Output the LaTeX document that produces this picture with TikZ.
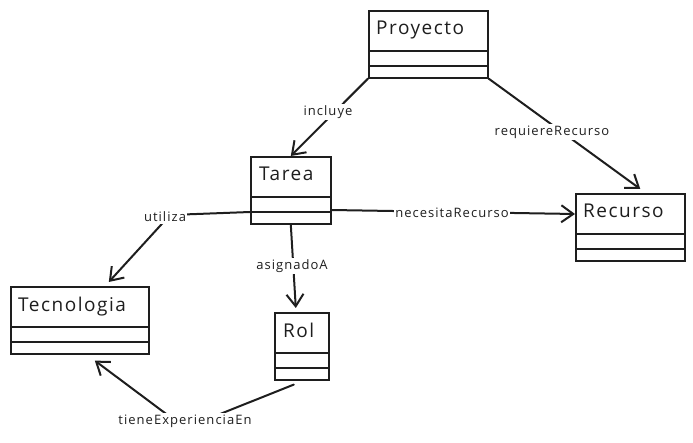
\documentclass[tikz,border=0pt]{standalone}
\usepackage{fontspec}
\setmainfont{Open Sans}[LetterSpace=8]
\usetikzlibrary{arrows.meta, positioning}

\definecolor{ink}{HTML}{1E1E1E}

\tikzset{
  classbox/.style={draw=ink, line width=1.6pt, fill=white, anchor=north west, minimum height=67pt, inner sep=0pt},
  classname/.style={anchor=north west, font=\fontsize{19}{21}\selectfont, text=ink, inner sep=0pt},
  assoc/.style={draw=ink, line width=2pt, line cap=round, -{Straight Barb[length=12pt, width=17pt, line width=2pt]}},
  lbl/.style={fill=white, text=ink, font=\fontsize{13}{15}\selectfont, inner sep=1.5pt}
}

\begin{document}
\begin{tikzpicture}[x=1pt, y=-1pt]
    \useasboundingbox (0,0) rectangle (693,443);

    % classes
    \node[classbox, minimum width=119pt] (proyecto) at (368,10) {};
    \node[classbox, minimum width=80pt] (tarea) at (250,156) {};
    \node[classbox, minimum width=109pt] (recurso) at (575,193) {};
    \node[classbox, minimum width=138pt] (tecnologia) at (10,286) {};
    \node[classbox, minimum width=54pt] (rol) at (274,312) {};

    % class names
    \node[classname] (proyectoName) at ([xshift=8pt, yshift=-11pt]proyecto.north west) {Proyecto};
    \node[classname] (tareaName) at ([xshift=9pt, yshift=-11pt]tarea.north west) {Tarea};
    \node[classname] (recursoName) at ([xshift=8pt, yshift=-11pt]recurso.north west) {Recurso};
    \node[classname] (tecnologiaName) at ([xshift=8pt, yshift=-11pt]tecnologia.north west) {Tecnologia};
    \node[classname] (rolName) at ([xshift=9pt, yshift=-11pt]rol.north west) {Rol};

    % attribute and operation compartments
    \foreach \c in {proyecto, tarea, recurso, tecnologia, rol} {
        \draw[ink, line width=1.6pt] ([yshift=-41pt]\c.north west) -- ([yshift=-41pt]\c.north east);
        \draw[ink, line width=1.6pt] ([yshift=-56pt]\c.north west) -- ([yshift=-56pt]\c.north east);
    }

    % bends
    \coordinate (utilizaBend) at (170,215);
    \coordinate (expBend) at (185,428);

    % associations
    \draw[assoc] (proyecto.south west) -- (tarea.north);
    \draw[assoc] (proyecto.south east) -- ([xshift=10pt, yshift=4pt]recurso.north);
    \draw[assoc] ([yshift=-54pt]tarea.north east) -- ([yshift=-21pt]recurso.north west);
    \draw[assoc] (tarea.south) -- ([xshift=-6pt, yshift=4pt]rol.north);
    \draw[assoc] ([yshift=-56pt]tarea.north west) -- (utilizaBend) -- ([xshift=29pt, yshift=4pt]tecnologia.north);
    \draw[assoc] ([xshift=-8pt, yshift=-4pt]rol.south) -- (expBend) -- ([xshift=15pt, yshift=-6pt]tecnologia.south);

    % labels
    \node[lbl] (incluyeLbl) at (328,112) {incluye};
    \node[lbl] (requiereLbl) at (552,132) {requiereRecurso};
    \node[lbl] (necesitaLbl) at (452,213) {necesitaRecurso};
    \node[lbl] (asignadoLbl) at (292,266) {asignadoA};
    \node[lbl] (utilizaLbl) at (165,217) {utiliza};
    \node[lbl] (expLbl) at (185,421) {tieneExperienciaEn};
\end{tikzpicture}
\end{document}
